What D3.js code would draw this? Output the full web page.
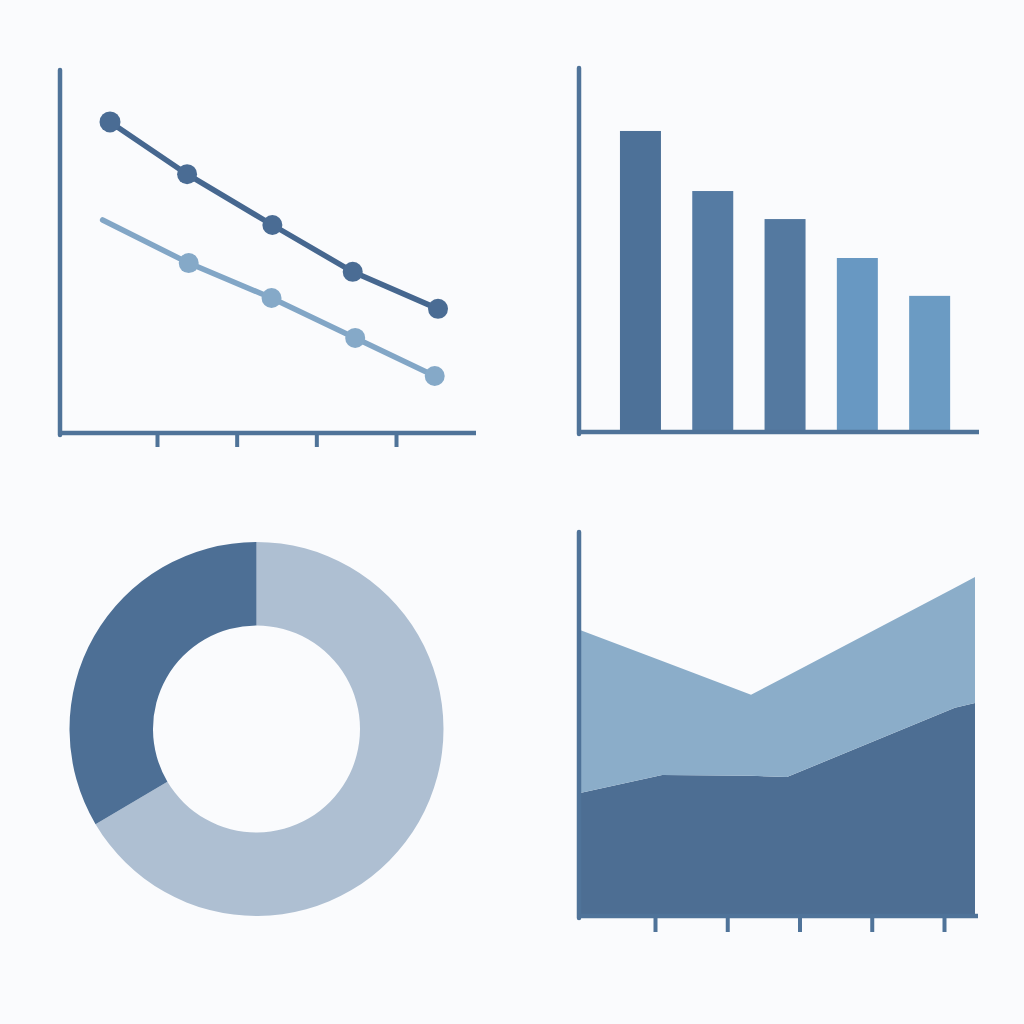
<!DOCTYPE html>
<html>
<head>
<meta charset="utf-8">
<script src="https://cdn.jsdelivr.net/npm/d3@7"></script>
<style>
  html, body { margin: 0; padding: 0; background: #fafbfd; }
  svg { display: block; }
</style>
</head>
<body>
<svg id="chart" width="1024" height="1024"></svg>
<script>
// ---------- DATA ----------
// Line chart (top-left)
const lineDarkX = [0, 0.94, 1.98, 2.96, 4];
const lineDarkValues = [85.7, 71.3, 57.3, 44.4, 34.2];
const lineLightX = [-0.09, 0.96, 1.97, 2.99, 3.96];
const lineLightValues = [58.7, 46.8, 37.2, 26.2, 15.7];
const lineTicks = ["A", "B", "C", "D"];

// Bar chart (top-right)
const barCategories = ["B1", "B2", "B3", "B4", "B5"];
const barValues = [82.7, 66.2, 58.5, 47.8, 37.4];

// Donut (bottom-left)
const donutLabels = ["Light", "Dark"];
const donutValues = [66.5, 33.5];

// Area chart (bottom-right)
const areaX = [0, 2.08, 4.33, 5.24, 9.49, 10];
const areaDark = [32.0, 36.7, 36.5, 36.2, 54.2, 55.5];
const areaLight = [42.5, 29.7, 21.1, 26.3, 31.3, 32.8];
const areaTicks = ["T1", "T2", "T3", "T4", "T5"];

// ---------- STYLE ----------
const axisColor = "#4f7399";
const darkLine = "#46678f";
const lightLine = "#82a6c6";
const barColors = ["#4d7198", "#557ba3", "#5479a0", "#6898c2", "#6b9bc3"];
const donutColors = ["#aebfd2", "#4d6f95"];
const areaDarkColor = "#4d6e93";
const areaLightColor = "#8badc9";

const svg = d3.select("#chart");
svg.append("rect").attr("width", 1024).attr("height", 1024).attr("fill", "#fafbfd");

function drawFrame(g, x0, x1, yTop, yBase, tickScale, tickLen) {
  g.append("line").attr("x1", x0).attr("x2", x0).attr("y1", yTop).attr("y2", yBase + 2)
    .attr("stroke", axisColor).attr("stroke-width", 4.5).attr("stroke-linecap", "round");
  const ax = g.append("g").attr("transform", `translate(0,${yBase})`);
  if (tickScale) {
    ax.call(d3.axisBottom(tickScale).tickSize(tickLen).tickFormat(() => "").tickSizeOuter(0));
    ax.select(".domain").remove();
    ax.selectAll(".tick line").attr("stroke", axisColor).attr("stroke-width", 4);
  }
  ax.append("line").attr("x1", x0 - 2).attr("x2", x1).attr("y1", 0).attr("y2", 0)
    .attr("stroke", axisColor).attr("stroke-width", 4.5);
}

// ---------- LINE CHART ----------
{
  const g = svg.append("g");
  const x = d3.scaleLinear().domain([0, 4]).range([110, 438]);
  const y = d3.scaleLinear().domain([0, 100]).range([433, 70]);
  const tickScale = d3.scalePoint().domain(lineTicks).range([157, 396]);
  drawFrame(g, 60, 476, 70, 433, tickScale, 14);

  const line = d3.line().x(d => x(d[0])).y(d => y(d[1]));
  const lightPts = lineLightX.map((v, i) => [v, lineLightValues[i]]);
  const darkPts = lineDarkX.map((v, i) => [v, lineDarkValues[i]]);

  g.append("path").datum(lightPts).attr("d", line).attr("fill", "none")
    .attr("stroke", lightLine).attr("stroke-width", 5.5).attr("stroke-linecap", "round");
  g.selectAll(".lp").data(lightPts.slice(1)).join("circle")
    .attr("cx", d => x(d[0])).attr("cy", d => y(d[1])).attr("r", 10).attr("fill", "#85a9c8");

  g.append("path").datum(darkPts).attr("d", line).attr("fill", "none")
    .attr("stroke", darkLine).attr("stroke-width", 5.5).attr("stroke-linecap", "round");
  g.selectAll(".dp").data(darkPts).join("circle")
    .attr("cx", d => x(d[0])).attr("cy", d => y(d[1])).attr("r", (d, i) => i === 0 ? 10.5 : 10)
    .attr("fill", "#4a6c94");
}

// ---------- BAR CHART ----------
{
  const g = svg.append("g");
  const x = d3.scaleBand().domain(barCategories).range([605.5, 964.6])
    .paddingInner(0.433).paddingOuter(0.2);
  const y = d3.scaleLinear().domain([0, 100]).range([432, 68]);
  g.selectAll("rect.bar").data(barValues).join("rect").attr("class", "bar")
    .attr("x", (d, i) => x(barCategories[i])).attr("width", x.bandwidth())
    .attr("y", d => y(d)).attr("height", d => y(0) - y(d))
    .attr("fill", (d, i) => barColors[i]);
  drawFrame(g, 579, 979, 68, 432, null, 0);
}

// ---------- DONUT ----------
{
  const g = svg.append("g").attr("transform", "translate(256.5,729)");
  const pie = d3.pie().sort(null).value(d => d);
  const arc = d3.arc().innerRadius(103.5).outerRadius(187);
  g.selectAll("path").data(pie(donutValues)).join("path")
    .attr("d", arc).attr("fill", (d, i) => donutColors[i]);
}

// ---------- AREA CHART ----------
{
  const g = svg.append("g");
  const x = d3.scaleLinear().domain([0, 10]).range([580, 975]);
  const y = d3.scaleLinear().domain([0, 100]).range([916, 532]);
  const rows = areaX.map((v, i) => ({ x: v, dark: areaDark[i], light: areaLight[i] }));
  const stack = d3.stack().keys(["dark", "light"]);
  const layers = stack(rows);
  const area = d3.area().x(d => x(d.data.x)).y0(d => y(d[0])).y1(d => y(d[1]));
  const cols = [areaDarkColor, areaLightColor];
  g.selectAll("path.layer").data(layers).join("path").attr("class", "layer")
    .attr("d", area).attr("fill", (d, i) => cols[i]);
  const tickScale = d3.scalePoint().domain(areaTicks).range([655, 944]);
  drawFrame(g, 579, 978, 532, 916, tickScale, 16);
}
</script>
</body>
</html>
